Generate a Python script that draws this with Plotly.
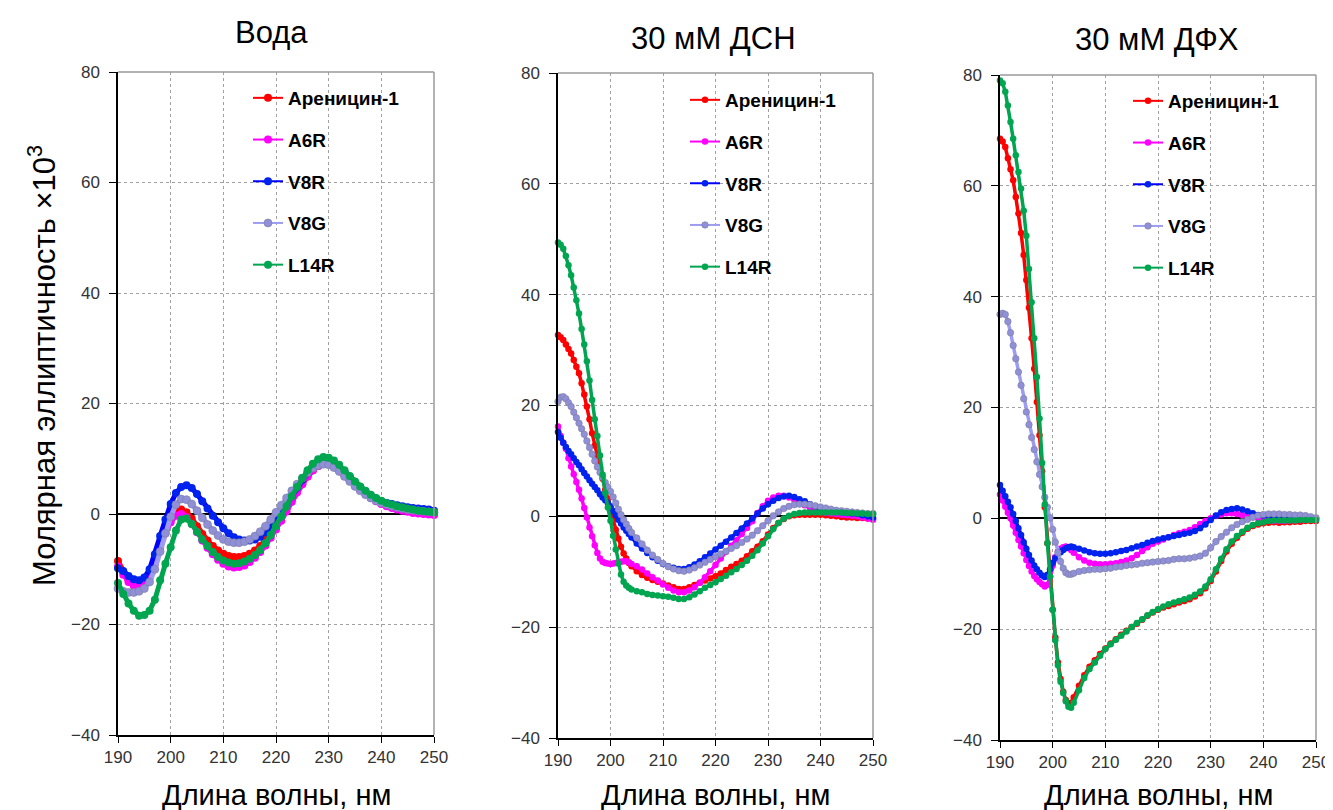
import plotly.graph_objects as go

# wavelength grids, nm
wl_water = list(range(190, 251))
wl_micelle = [190 + 0.5 * i for i in range(29)] + list(range(205, 251))

# ---- Вода (190..250 step 1) ----
water_are = [-8.5, -10.5, -12.0, -12.8, -12.8, -12.3, -11.0, -8.5, -5.5, -3.0,
             -0.8, 0.5, 0.8, 0.3, -0.8, -2.2, -3.6, -4.8, -5.8, -6.6,
             -7.2, -7.6, -7.8, -7.8, -7.6, -7.2, -6.6, -5.8, -4.7, -3.4,
             -2.0, -0.5, 1.0, 2.6, 4.1, 5.5, 6.8, 7.9, 8.7, 9.1,
             9.1, 8.7, 8.0, 7.1, 6.2, 5.3, 4.5, 3.7, 3.1, 2.5,
             2.0, 1.6, 1.3, 1.0, 0.8, 0.6, 0.4, 0.3, 0.2, 0.1,
             0.0]
water_a6r = [-9.5, -11.0, -12.3, -13.0, -13.2, -12.8, -11.5, -9.0, -6.0, -3.5,
             -1.5, -0.3, 0.0, -0.6, -1.8, -3.3, -4.8, -6.1, -7.3, -8.3,
             -9.0, -9.5, -9.7, -9.6, -9.3, -8.7, -7.9, -6.9, -5.7, -4.3,
             -2.8, -1.2, 0.5, 2.2, 3.9, 5.4, 6.8, 7.9, 8.7, 9.1,
             9.1, 8.7, 8.0, 7.1, 6.1, 5.2, 4.3, 3.6, 2.9, 2.3,
             1.8, 1.4, 1.1, 0.8, 0.6, 0.4, 0.2, 0.1, 0.0, -0.1,
             -0.2]
water_v8r = [-9.8, -10.3, -11.2, -11.8, -12.0, -11.5, -10.0, -7.3, -4.0, -1.0,
             1.8, 3.8, 4.9, 5.2, 4.7, 3.6, 2.3, 1.0, -0.3, -1.5,
             -2.6, -3.5, -4.2, -4.6, -4.8, -4.8, -4.6, -4.1, -3.3, -2.3,
             -1.1, 0.3, 1.8, 3.3, 4.8, 6.2, 7.5, 8.5, 9.3, 9.7,
             9.7, 9.3, 8.6, 7.7, 6.7, 5.7, 4.8, 4.0, 3.3, 2.8,
             2.3, 2.0, 1.8, 1.6, 1.4, 1.2, 1.1, 1.0, 0.9, 0.8,
             0.6]
water_v8g = [-13.5, -14.0, -14.2, -14.2, -14.0, -13.5, -12.3, -10.0, -6.8, -3.5,
             -0.5, 1.7, 2.7, 2.6, 1.8, 0.6, -0.7, -1.9, -3.0, -3.9,
             -4.6, -5.0, -5.2, -5.2, -5.0, -4.6, -4.0, -3.2, -2.2, -1.0,
             0.3, 1.6, 2.9, 4.2, 5.4, 6.5, 7.5, 8.3, 8.8, 9.0,
             8.9, 8.4, 7.7, 6.8, 5.9, 5.0, 4.2, 3.5, 2.9, 2.4,
             2.0, 1.7, 1.4, 1.2, 1.0, 0.8, 0.7, 0.6, 0.5, 0.4,
             0.3]
water_l14r = [-12.5, -14.5, -16.2, -17.5, -18.4, -18.3, -17.5, -15.5, -12.0, -9.0,
              -6.0, -3.0, -1.0, -0.8, -1.8, -3.2, -4.6, -5.8, -6.9, -7.8,
              -8.4, -8.8, -9.0, -8.9, -8.6, -8.1, -7.4, -6.5, -5.3, -3.8,
              -2.2, -0.5, 1.4, 3.2, 4.9, 6.5, 7.9, 9.1, 9.9, 10.3,
              10.2, 9.7, 8.9, 7.9, 6.9, 5.9, 5.0, 4.2, 3.5, 2.9,
              2.4, 2.0, 1.7, 1.4, 1.2, 1.0, 0.8, 0.6, 0.5, 0.4,
              0.3]

# ---- 30 мМ ДСН (190..204 step 0.5, then 205..250 step 1) ----
sds_are = [32.7, 32.3, 31.8, 31.0, 30.2, 29.4, 28.2, 27.0, 25.8, 24.0,
           22.0, 19.8, 17.5, 15.0, 12.8, 10.7, 8.8, 6.8, 4.8, 3.2,
           1.5, -0.6, -2.4, -4.0, -5.5, -6.7, -7.6, -8.4, -9.0,
           -9.9, -10.6, -11.1, -11.5, -11.8, -12.1, -12.5, -12.8, -13.1, -13.1,
           -12.8, -12.4, -12.0, -11.6, -11.2, -10.8, -10.3, -9.7, -9.1, -8.6,
           -8.0, -7.2, -6.3, -5.5, -4.5, -3.3, -2.1, -1.2, -0.5, 0.0,
           0.2, 0.3, 0.3, 0.3, 0.3, 0.3, 0.2, 0.1, 0.0, -0.1,
           -0.2, -0.2, -0.3, -0.3, -0.4, -0.5]
sds_a6r = [16.2, 14.5, 13.3, 12.2, 10.5, 9.0, 7.6, 6.2, 4.8, 3.2,
           1.5, -0.2, -2.0, -3.6, -5.2, -6.6, -7.6, -8.2, -8.4, -8.5,
           -8.6, -8.5, -8.4, -8.3, -8.2, -8.1, -8.1, -8.3, -8.6,
           -9.0, -9.6, -10.3, -11.0, -11.6, -12.3, -12.9, -13.4, -13.7, -13.7,
           -13.4, -12.8, -12.0, -11.0, -9.9, -8.8, -7.6, -6.4, -5.3, -4.3,
           -3.2, -2.1, -0.9, 0.6, 1.8, 2.8, 3.4, 3.7, 3.7, 3.4,
           3.0, 2.5, 2.0, 1.5, 1.1, 0.8, 0.6, 0.5, 0.4, 0.3,
           0.2, 0.1, 0.0, -0.2, -0.4, -0.6]
sds_v8r = [15.2, 14.2, 13.3, 12.5, 11.8, 11.2, 10.5, 9.8, 9.2, 8.5,
           7.8, 7.2, 6.5, 5.9, 5.3, 4.7, 4.0, 3.4, 2.9, 2.4,
           1.8, 1.0, 0.2, -0.6, -1.3, -2.0, -2.6, -3.2, -3.8,
           -4.9, -5.8, -6.6, -7.4, -8.0, -8.6, -9.0, -9.3, -9.5, -9.5,
           -9.2, -8.7, -8.1, -7.4, -6.7, -6.0, -5.3, -4.6, -3.8, -3.0,
           -2.2, -1.3, -0.4, 0.5, 1.4, 2.2, 2.8, 3.3, 3.6, 3.7,
           3.5, 3.1, 2.7, 2.2, 1.8, 1.4, 1.2, 1.0, 0.8, 0.7,
           0.6, 0.5, 0.4, 0.2, 0.0, -0.2]
sds_v8g = [20.7, 21.5, 21.6, 21.2, 20.5, 19.8, 18.8, 17.8, 16.8, 15.8,
           14.8, 13.6, 12.4, 11.2, 10.0, 8.9, 7.9, 7.0, 6.1, 5.3,
           4.5, 3.5, 2.4, 1.3, 0.3, -0.6, -1.4, -2.2, -2.9,
           -3.9, -5.0, -6.1, -7.0, -7.8, -8.5, -9.1, -9.5, -9.8, -9.9,
           -9.7, -9.3, -8.8, -8.3, -7.8, -7.3, -6.8, -6.3, -5.8, -5.3,
           -4.7, -4.1, -3.4, -2.6, -1.7, -0.8, 0.1, 0.8, 1.4, 1.8,
           2.1, 2.2, 2.2, 2.1, 1.9, 1.7, 1.5, 1.3, 1.1, 1.0,
           0.9, 0.8, 0.7, 0.6, 0.5, 0.5]
sds_l14r = [49.4, 49.0, 48.3, 47.0, 45.3, 43.5, 41.3, 39.0, 36.6, 33.8,
            31.0, 28.0, 24.5, 21.0, 17.5, 14.5, 11.0, 7.5, 4.2, 1.6,
            -0.8, -3.5, -6.0, -8.5, -10.5, -11.8, -12.5, -12.9, -13.2,
            -13.5, -13.7, -14.0, -14.2, -14.3, -14.4, -14.5, -14.7, -14.9, -14.9,
            -14.6, -14.1, -13.5, -12.9, -12.4, -11.9, -11.3, -10.7, -10.1, -9.5,
            -8.8, -8.0, -7.1, -6.1, -4.9, -3.6, -2.3, -1.2, -0.4, 0.1,
            0.4, 0.6, 0.7, 0.7, 0.7, 0.7, 0.7, 0.7, 0.7, 0.7,
            0.6, 0.6, 0.5, 0.5, 0.4, 0.4]

# ---- 30 мМ ДФХ (same grid) ----
dpc_are = [68.5, 68.0, 67.0, 65.0, 63.0, 61.0, 58.0, 55.0, 51.5, 47.5,
           43.0, 38.0, 32.5, 27.0, 21.0, 15.0, 8.5, 2.0, -4.5, -10.5,
           -16.5, -21.5, -26.0, -29.0, -31.3, -32.8, -33.5, -33.3, -32.3,
           -30.2, -28.3, -26.8, -25.6, -24.5, -23.5, -22.6, -21.8, -21.0, -20.3,
           -19.6, -19.0, -18.3, -17.6, -17.0, -16.5, -16.1, -15.8, -15.5, -15.2,
           -14.9, -14.6, -14.1, -13.5, -12.6, -11.3, -9.6, -7.7, -6.0, -4.6,
           -3.5, -2.6, -1.9, -1.4, -1.1, -0.9, -0.8, -0.7, -0.8, -0.7,
           -0.7, -0.6, -0.6, -0.5, -0.5, -0.5]
dpc_a6r = [4.3, 3.2, 2.1, 1.0, 0.0, -1.3, -2.6, -3.9, -5.1, -6.3,
           -7.5, -8.6, -9.6, -10.4, -11.0, -11.5, -11.9, -12.3, -12.0, -10.5,
           -8.5, -7.0, -6.0, -5.5, -5.2, -5.1, -5.3, -5.7, -6.2,
           -7.0, -7.6, -8.0, -8.2, -8.3, -8.3, -8.2, -8.1, -7.9, -7.6,
           -7.2, -6.6, -5.9, -5.2, -4.6, -4.2, -3.8, -3.4, -3.0, -2.7,
           -2.4, -2.1, -1.6, -1.0, -0.5, 0.0, 0.4, 0.7, 0.9, 0.9,
           0.8, 0.6, 0.4, 0.2, 0.0, -0.2, -0.4, -0.5, -0.5, -0.5,
           -0.4, -0.4, -0.3, -0.3, -0.2, -0.2]
dpc_v8r = [6.0, 5.0, 4.0, 3.0, 2.0, 0.8, -0.5, -1.8, -3.0, -4.3,
           -5.5, -6.6, -7.6, -8.5, -9.2, -9.8, -10.3, -10.6, -10.2, -9.2,
           -8.0, -7.2, -6.6, -6.1, -5.7, -5.4, -5.2, -5.1, -5.2,
           -5.5, -5.8, -6.1, -6.3, -6.4, -6.4, -6.3, -6.1, -5.9, -5.7,
           -5.4, -5.1, -4.8, -4.4, -4.1, -3.8, -3.6, -3.4, -3.2, -3.0,
           -2.8, -2.6, -2.3, -1.8, -1.1, -0.3, 0.5, 1.1, 1.5, 1.7,
           1.8, 1.6, 1.3, 0.9, 0.6, 0.5, 0.4, 0.3, 0.3, 0.2,
           0.2, 0.2, 0.1, 0.1, 0.0, 0.0]
dpc_v8g = [36.8, 37.0, 36.8, 35.5, 33.5, 31.2, 28.8, 26.4, 24.0, 21.6,
           19.2, 16.9, 14.6, 12.4, 10.2, 7.9, 5.7, 3.8, 2.0, 0.1,
           -2.0, -4.3, -6.2, -7.8, -9.0, -9.8, -10.1, -10.1, -9.9,
           -9.6, -9.4, -9.3, -9.2, -9.2, -9.1, -9.0, -8.8, -8.7, -8.5,
           -8.4, -8.3, -8.1, -8.0, -7.9, -7.8, -7.7, -7.6, -7.4, -7.3,
           -7.3, -7.2, -7.0, -6.8, -6.3, -5.3, -4.2, -3.3, -2.5, -1.7,
           -1.1, -0.6, -0.2, 0.2, 0.5, 0.7, 0.8, 0.8, 0.8, 0.7,
           0.7, 0.6, 0.6, 0.5, 0.3, 0.1]
dpc_l14r = [79.0, 78.5, 77.0, 74.5, 71.5, 68.5, 65.5, 62.5, 59.5, 55.5,
            51.0, 45.0, 39.0, 32.5, 25.5, 18.0, 10.0, 2.5, -4.5, -10.5,
            -16.5, -22.0, -26.5, -29.5, -31.5, -33.0, -34.0, -34.2, -33.3,
            -31.0, -28.8, -27.2, -26.0, -24.8, -23.6, -22.7, -21.9, -21.2, -20.4,
            -19.6, -18.9, -18.2, -17.5, -16.9, -16.4, -15.9, -15.5, -15.2, -14.9,
            -14.6, -14.3, -13.8, -13.2, -12.3, -11.0, -9.2, -7.3, -5.6, -4.2,
            -3.2, -2.4, -1.7, -1.2, -0.9, -0.7, -0.5, -0.4, -0.4, -0.4,
            -0.4, -0.4, -0.3, -0.3, -0.3, -0.3]

series_names = ["Ареницин-1", "A6R", "V8R", "V8G", "L14R"]
line_colors = ["#ff0000", "#ff00ff", "#0000ff", "#9c9cf2", "#00a550"]
dot_colors = ["#ff0000", "#ff00ff", "#0022ee", "#9090d8", "#00a550"]
panel_titles = ["Вода", "30 мМ ДСН", "30 мМ ДФХ"]
x_ticks = [190, 200, 210, 220, 230, 240, 250]
y_ticks = [-40, -20, 0, 20, 40, 60, 80]

# page body has an 8px margin; positions below are screen pixels
OFF = 8
W, H = 1333 - OFF, 810 - OFF


def px(x):
    return (x - OFF) / W


def py(y):
    return 1 - (y - OFF) / H


panels = [
    dict(x=wl_water, data=[water_are, water_a6r, water_v8r, water_v8g, water_l14r],
         size=8, band=5),
    dict(x=wl_micelle, data=[sds_are, sds_a6r, sds_v8r, sds_v8g, sds_l14r],
         size=6.5, band=3.5),
    dict(x=wl_micelle, data=[dpc_are, dpc_a6r, dpc_v8r, dpc_v8g, dpc_l14r],
         size=6.5, band=3.5),
]
dom_x = [(118, 434), (558, 873), (1000, 1316)]
dom_y = [(72, 735), (73, 738), (75, 740)]
leg_pos = [(248, 79), (685, 81), (1128, 82)]
title_y = [32, 38, 40]
title_x = [271, 713, 1157]

font_main = "Liberation Sans"
fig = go.Figure()
annotations = []
shapes = []
layout = {}

for i, p in enumerate(panels):
    n = "" if i == 0 else str(i + 1)
    leg = "legend" + n
    for k in range(5):
        # thick underlay so the dense spectrum reads as a band
        fig.add_trace(go.Scatter(
            x=p["x"], y=p["data"][k], mode="lines", xaxis="x" + n, yaxis="y" + n,
            line=dict(color=line_colors[k], width=p["band"]),
            showlegend=False, hoverinfo="skip", cliponaxis=False))
        fig.add_trace(go.Scatter(
            x=p["x"], y=p["data"][k], name=series_names[k],
            mode="lines+markers", xaxis="x" + n, yaxis="y" + n,
            legend=leg, legendgroup=f"{i}-{k}",
            line=dict(color=line_colors[k], width=2),
            marker=dict(color=dot_colors[k], size=p["size"],
                        line=dict(width=0.6 if k == 3 else 0, color="#7c7ca0")),
            cliponaxis=False, hoverinfo="skip"))

    x0, x1 = dom_x[i]
    y0, y1 = dom_y[i]
    common = dict(showline=True, linecolor="black", linewidth=1.5,
                  ticks="outside", tickcolor="black", tickwidth=1.2,
                  showgrid=True, gridcolor="#a0a0a0", griddash="3px,3px", gridwidth=1,
                  tickfont=dict(family=font_main, size=17, color="#333333"),
                  fixedrange=True, automargin=False)
    layout["xaxis" + n] = dict(domain=[px(x0), px(x1)], anchor="y" + n,
                               range=[190, 250], tickvals=x_ticks, ticklen=6,
                               zeroline=False, **common)
    layout["yaxis" + n] = dict(domain=[py(y1), py(y0)], anchor="x" + n,
                               range=[-40, 80], tickvals=y_ticks, ticklen=7,
                               ticklabelstandoff=6,
                               zeroline=True, zerolinecolor="black", zerolinewidth=2.2,
                               **common)
    lx, ly = leg_pos[i]
    layout[leg] = dict(x=px(lx), y=py(ly), xanchor="left", yanchor="top",
                       bgcolor="rgba(0,0,0,0)", traceorder="grouped",
                       tracegroupgap=14, itemwidth=30,
                       font=dict(family=font_main, size=19, color="black", weight="bold"))

    # grey frame on top and right
    shapes.append(dict(type="line", xref="x" + n + " domain", yref="y" + n + " domain",
                       x0=0, x1=1, y0=1, y1=1, line=dict(color="#9a9a9a", width=1.5)))
    shapes.append(dict(type="line", xref="x" + n + " domain", yref="y" + n + " domain",
                       x0=1, x1=1, y0=0, y1=1, line=dict(color="#9a9a9a", width=1.5)))

    annotations.append(dict(text=panel_titles[i], xref="paper", yref="paper",
                            x=px(title_x[i]), y=py(title_y[i]),
                            xanchor="center", yanchor="middle", showarrow=False,
                            font=dict(family=font_main, size=31, color="black")))
    annotations.append(dict(text="Длина волны, нм", xref="paper", yref="paper",
                            x=px((x0 + x1) / 2), y=py(795),
                            xanchor="center", yanchor="middle", showarrow=False,
                            font=dict(family=font_main, size=29, color="black")))

annotations.append(dict(text="Молярная эллиптичность ×10<sup>3</sup>",
                        xref="paper", yref="paper", x=px(42), y=py(366),
                        xanchor="center", yanchor="middle", textangle=-90,
                        showarrow=False,
                        font=dict(family=font_main, size=31, color="black")))

fig.update_layout(layout)
fig.update_layout(
    width=W, height=H,
    margin=dict(l=0, r=0, t=0, b=0),
    plot_bgcolor="white", paper_bgcolor="white",
    showlegend=True,
    annotations=annotations,
    shapes=shapes,
)

fig.write_html("out.html")
